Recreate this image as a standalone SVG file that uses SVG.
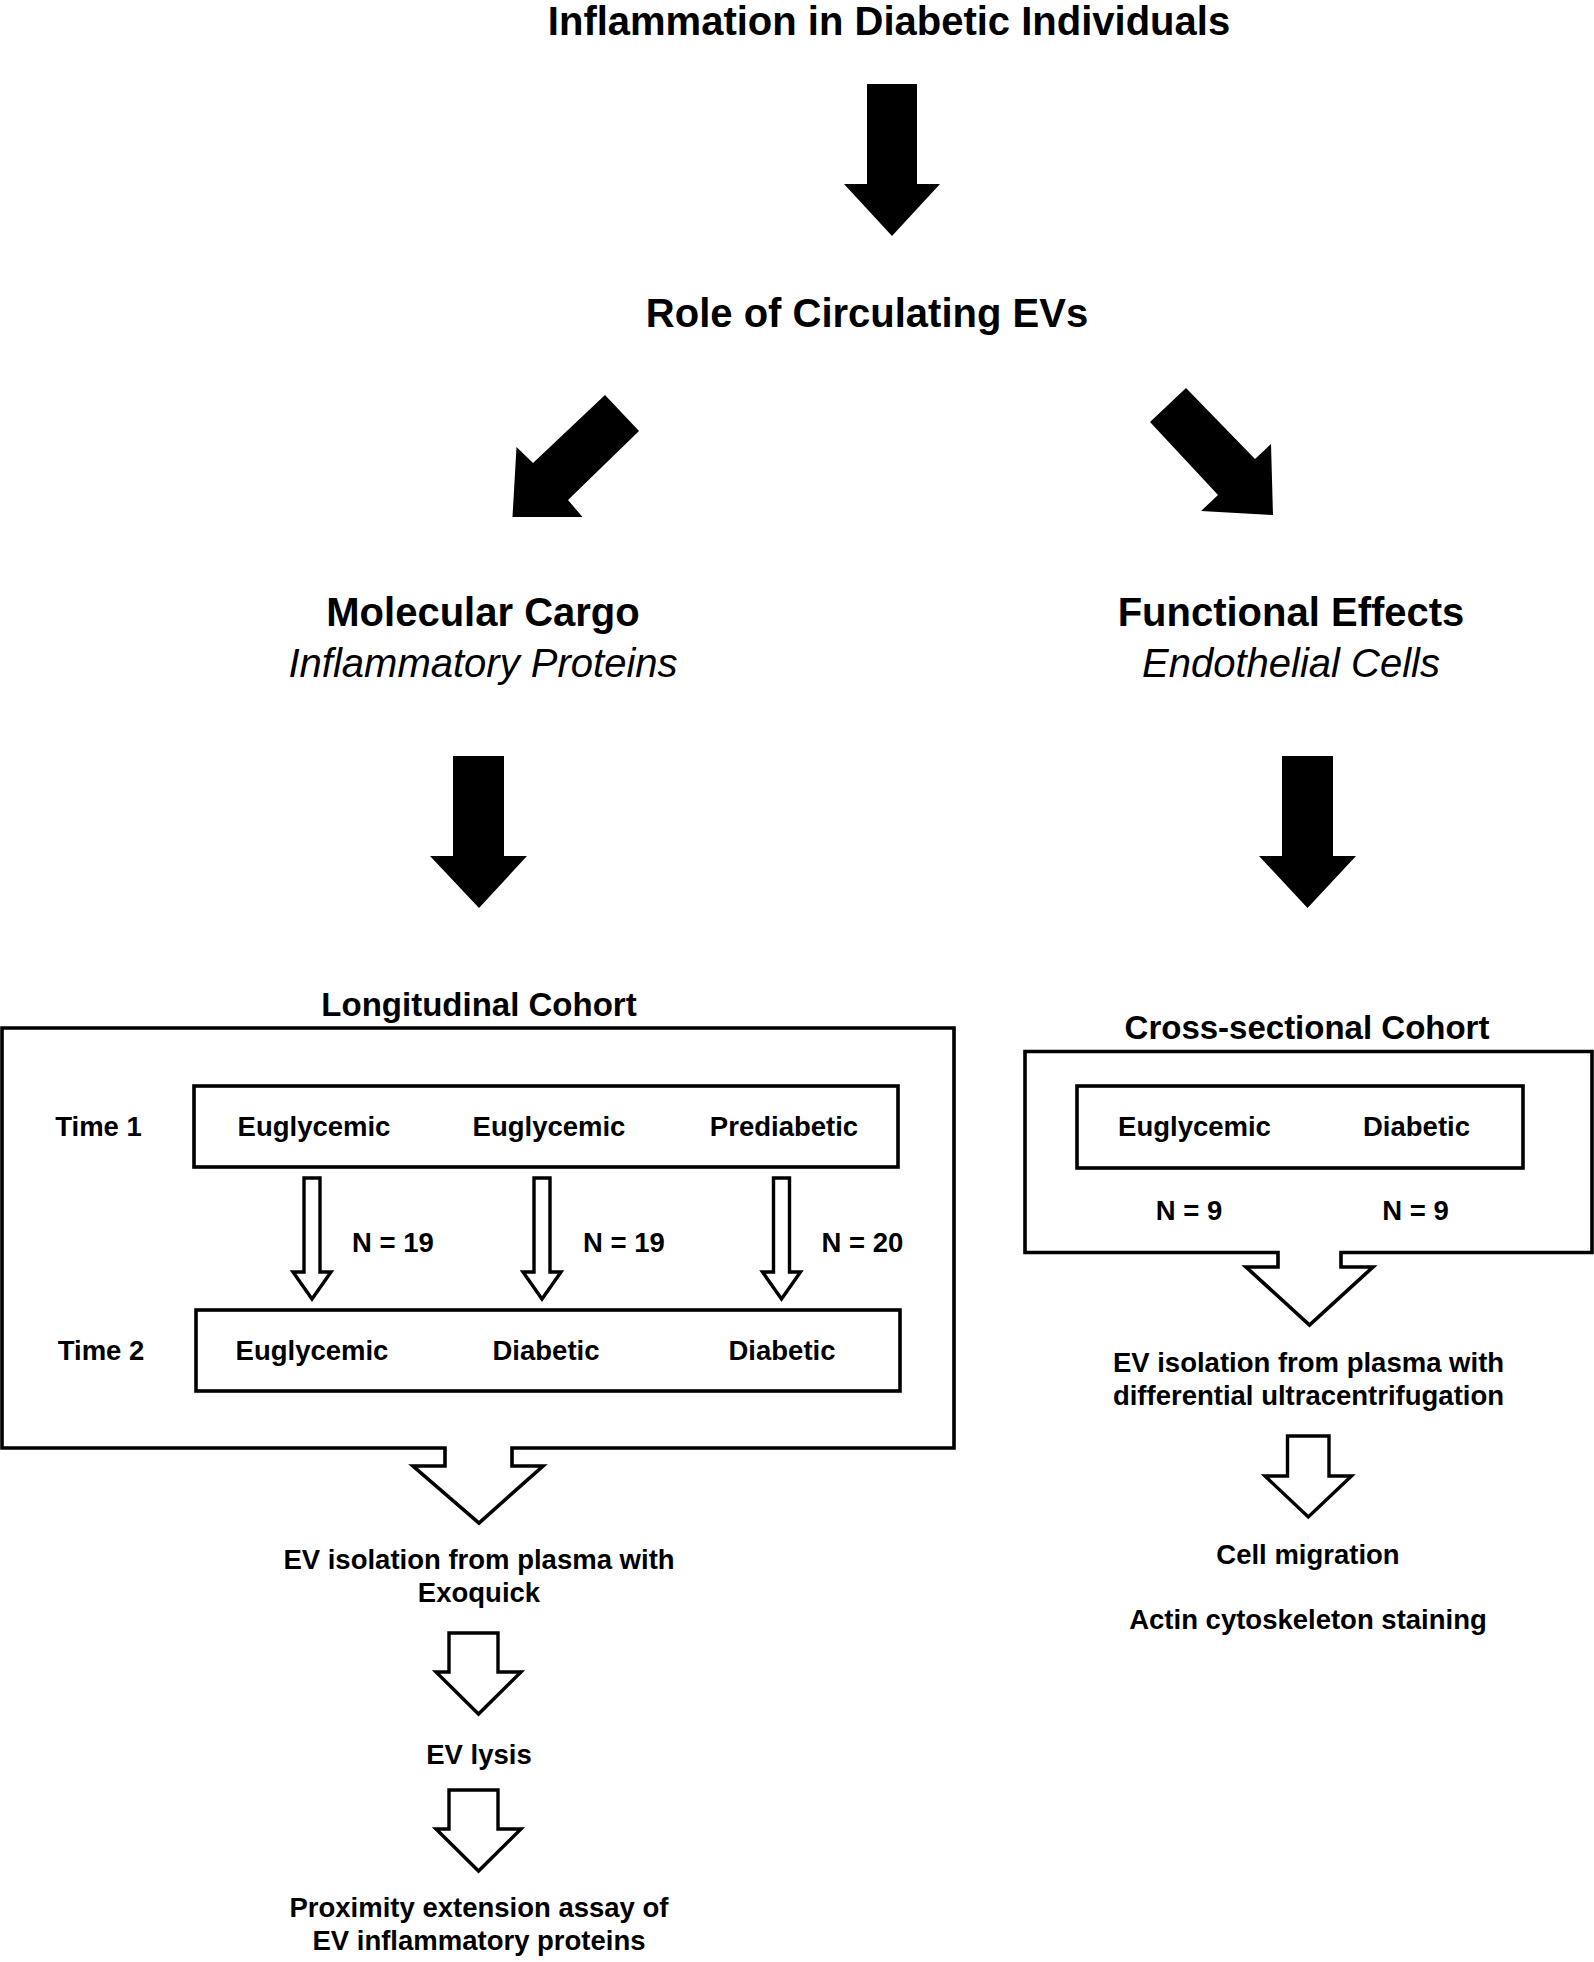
<svg xmlns="http://www.w3.org/2000/svg" width="1594" height="1962" viewBox="0 0 1594 1962">
<style>
text{font-family:"Liberation Sans",Arial,Helvetica,sans-serif;font-weight:bold;text-anchor:middle;fill:#000}
.h1{font-size:40px}
.it{font-size:40px;font-weight:normal;font-style:italic}
.h2{font-size:33px}
.t{font-size:27.5px}
.box{fill:#fff;stroke:#000;stroke-width:3.6}
.hollow{fill:#fff;stroke:#000;stroke-width:3.4;stroke-linejoin:miter}
.solid{fill:#000;stroke:none}
</style>
<rect width="1594" height="1962" fill="#fff"/>

<g id="title"><text class="h1" x="889" y="35">Inflammation in Diabetic Individuals</text></g>
<g id="role"><text class="h1" x="867" y="327">Role of Circulating EVs</text></g>
<g id="molecular-cargo">
<text class="h1" x="483" y="626">Molecular Cargo</text>
<text class="it" x="483" y="677">Inflammatory Proteins</text>
</g>
<g id="functional-effects">
<text class="h1" x="1291" y="626">Functional Effects</text>
<text class="it" x="1291" y="677">Endothelial Cells</text>
</g>

<g id="longitudinal-cohort">
<text class="h2" x="479" y="1016">Longitudinal Cohort</text>
<path class="box" d="M2 1028 H954 V1448 H512 V1466 H543 L479 1523 L413 1466 H445 V1448 H2 Z"/>
</g>
<g id="time1">
<text class="t" x="98.5" y="1136">Time 1</text>
<rect class="box" x="194" y="1086" width="704" height="81"/>
<text class="t" x="314" y="1136">Euglycemic</text>
<text class="t" x="549" y="1136">Euglycemic</text>
<text class="t" x="784" y="1136">Prediabetic</text>
</g>
<g id="time2">
<text class="t" x="101" y="1360">Time 2</text>
<rect class="box" x="196" y="1310" width="704" height="81"/>
<text class="t" x="312" y="1360">Euglycemic</text>
<text class="t" x="546" y="1360">Diabetic</text>
<text class="t" x="782" y="1360">Diabetic</text>
</g>

<g id="cross-sectional-cohort">
<text class="h2" x="1307" y="1039">Cross-sectional Cohort</text>
<path class="box" d="M1025 1051.5 H1592 V1252.5 H1341 V1267 H1373 L1309.5 1325 L1246 1267 H1278 V1252.5 H1025 Z"/>
<rect class="box" x="1077" y="1086" width="446" height="82"/>
<text class="t" x="1194.5" y="1135.5">Euglycemic</text>
<text class="t" x="1416.5" y="1135.5">Diabetic</text>
<text class="t" x="1189" y="1219.5">N = 9</text>
<text class="t" x="1415.5" y="1219.5">N = 9</text>
</g>

<g id="ev-isolation-exoquick">
<text class="t" x="479" y="1569">EV isolation from plasma with</text>
<text class="t" x="479" y="1602">Exoquick</text>
</g>
<g id="ev-lysis"><text class="t" x="479" y="1764">EV lysis</text></g>
<g id="pea">
<text class="t" x="479" y="1917">Proximity extension assay of</text>
<text class="t" x="479" y="1950">EV inflammatory proteins</text>
</g>

<g id="ev-isolation-uc">
<text class="t" x="1308.5" y="1372">EV isolation from plasma with</text>
<text class="t" x="1308.5" y="1405">differential ultracentrifugation</text>
</g>
<g id="cell-migration"><text class="t" x="1308" y="1564">Cell migration</text></g>
<g id="actin-staining"><text class="t" x="1308" y="1629">Actin cytoskeleton staining</text></g>

<g id="connectors">
<polygon class="solid" points="867,84 917,84 917,184 940,184 892,236 844,184 867,184"/>
<polygon class="solid" points="605,395 639,431 568,500 582.5,517 512.5,517 516.5,447 533,463"/>
<polygon class="solid" points="1186,388 1150,422 1218,495 1201,511 1273,515 1271,444 1255,459"/>
<polygon class="solid" points="453,756 504,756 504,856 527,856 479,908 430,856 453,856"/>
<polygon class="solid" points="1282,756 1333,756 1333,856 1356,856 1307.5,908 1259,856 1282,856"/>
<path class="hollow" d="M304 1178 H320 V1272 H331 L312 1299 L293 1272 H304 Z"/>
<path class="hollow" d="M534 1178 H550 V1272 H561 L542 1299 L523 1272 H534 Z"/>
<path class="hollow" d="M773.5 1178 H789.5 V1272 H800.5 L781.5 1299 L762.5 1272 H773.5 Z"/>
<text class="t" x="393" y="1252">N = 19</text>
<text class="t" x="624" y="1252">N = 19</text>
<text class="t" x="862.5" y="1252">N = 20</text>
<path class="hollow" d="M449 1633 H498 V1672 H521 L478.5 1714 L436 1672 H449 Z"/>
<path class="hollow" d="M449 1790 H498 V1829 H521 L478.5 1871 L436 1829 H449 Z"/>
<path class="hollow" d="M1287.5 1436 H1329 V1476 H1351.5 L1308.3 1517 L1265 1476 H1287.5 Z"/>
</g>
</svg>
